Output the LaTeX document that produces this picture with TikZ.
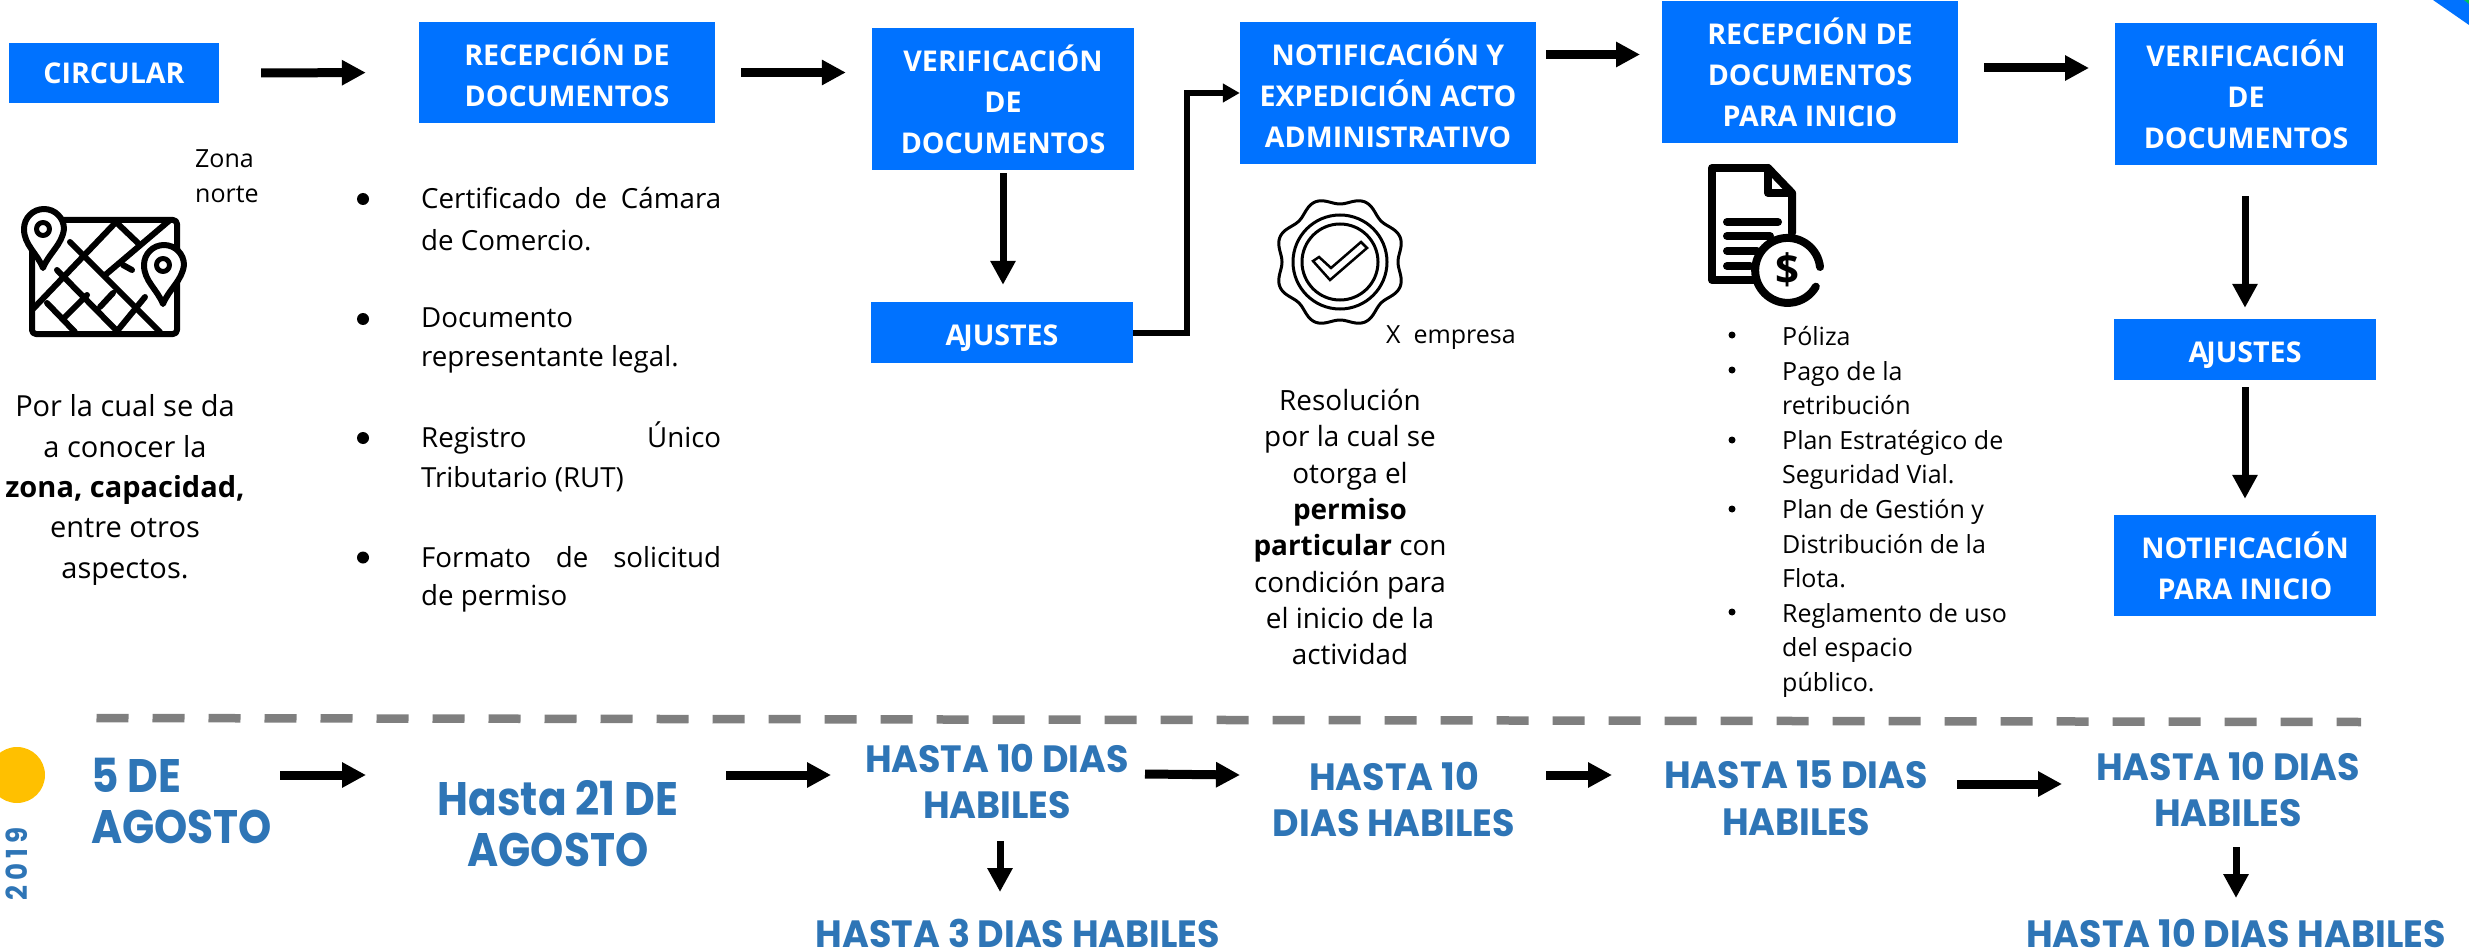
\documentclass[tikz,border=0pt]{standalone}
\usepackage{fontspec}
\setmainfont{Open Sans}
\newfontfamily\gothic{Poppins}[FakeStretch=0.9]
\newfontfamily\gothicw{Poppins}[FakeStretch=0.96]
\usetikzlibrary{arrows.meta,calc}
\definecolor{boxblue}{HTML}{0072FF}
\definecolor{dateblue}{HTML}{2E75B6}
\definecolor{dashgray}{HTML}{7F7F7F}
\definecolor{sunyellow}{HTML}{FFC000}
\definecolor{cornergreen}{HTML}{00C060}
\tikzset{
 bx/.style={fill=boxblue,text=white,inner sep=0pt,align=center,font=\fontsize{28.6}{41}\selectfont\bfseries},
 ajbx/.style={bx,text height=26.5pt,text depth=0pt},
 arr/.style={line width=9pt,-{Triangle[length=24pt,width=24pt]}},
 darr/.style={line width=7pt,-{Triangle[length=24pt,width=24pt]}},
 elb/.style={line width=6pt,line join=miter,-{Triangle[length=17pt,width=18pt]}},
 body/.style={inner sep=0pt,align=center,font=\fontsize{29}{40.4}\selectfont},
 lst/.style={inner sep=0pt,anchor=west,font=\fontsize{27.7}{40}\selectfont},
 lsts/.style={inner sep=0pt,anchor=west,font=\fontsize{25}{34.6}\selectfont},
 dot/.style={fill=black,circle,inner sep=0pt,minimum size=#1},
 date/.style={inner sep=0pt,text=dateblue,align=center,font=\gothicw\fontsize{38}{46.5}\selectfont\bfseries},
 bigdate/.style={inner sep=0pt,text=dateblue,align=center,font=\gothic\fontsize{47}{51.5}\selectfont\bfseries},
 icon/.style={line width=6pt,line cap=round,line join=round},
}
\begin{document}
\begin{tikzpicture}[x=1pt,y=-1pt]
\useasboundingbox (0,0) rectangle (2469,952);
\begin{scope}
\clip (0,0) rectangle (2469,952);
\fill[boxblue] (2433,0) -- (2469,25) -- (2469,0) -- cycle;
\fill[cornergreen] (2464,0) -- (2469,4) -- (2469,0) -- cycle;
\fill[sunyellow] (17,775) circle (28);
\end{scope}

% boxes
\node[bx,minimum width=210,minimum height=60] (circ) at (114,73) {CIRCULAR};
\node[bx,minimum width=296,minimum height=101] (rec) at (567,72.5) {RECEPCIÓN DE\\DOCUMENTOS};
\node[bx,minimum width=262,minimum height=142] (ver) at (1003,99) {VERIFICACIÓN\\DE\\DOCUMENTOS};
\node[ajbx,minimum width=262,minimum height=61] (aj) at (1002,332.5) {A\kern-2ptJUSTES};
\node[bx,minimum width=296,minimum height=142] (not) at (1388,93) {NOTIFICACIÓN Y\\EXPEDICIÓN ACTO\\ADMINISTRATIVO};
\node[bx,minimum width=296,minimum height=142] (rec2) at (1810,72) {RECEPCIÓN DE\\DOCUMENTOS\\PARA INICIO};
\node[bx,minimum width=262,minimum height=142] (ver2) at (2246,94) {VERIFICACIÓN\\DE\\DOCUMENTOS};
\node[ajbx,minimum width=262,minimum height=61] (aj2) at (2245,349.5) {A\kern-2ptJUSTES};
\node[bx,minimum width=262,minimum height=101] (not2) at (2245,565.5) {NOTIFICACIÓN\\PARA INICIO};

% connectors, top row
\draw[arr,shorten <=42pt,shorten >=53pt] (circ.east) -- (rec.west);
\draw[arr,shorten <=26pt,shorten >=26pt] (rec.east) -- (rec.east -| ver.west);
\draw[darr,shorten <=3pt,shorten >=17pt] (ver.south) -- (aj.north -| ver.south);
\draw[elb] (aj.east) -- ++(54,0) |- (not.west);
\coordinate (na) at (1546,54.5);
\coordinate (nb) at (1640,54.5);
\draw[arr] (na) -- (nb);
\coordinate (ra) at (1984,68);
\coordinate (rb) at (2089,68);
\draw[arr] (ra) -- (rb);
\draw[darr,shorten <=31pt,shorten >=11pt] (ver2.south -| aj2.north) -- (aj2.north);
\draw[darr,shorten <=7pt,shorten >=16pt] (aj2.south) -- (not2.north);

% left text
\node[inner sep=0pt,anchor=west,font=\fontsize{25}{35.5}\selectfont,align=left] (zona) at (195,176) {Zona\\norte};
\node[body] (porla) at (125,490) {Por la cual se da\\a conocer la\\\textbf{zona, capacidad,}\\entre otros\\aspectos.};

% map icon
\draw[icon,fill=white,rounded corners=4pt] (32,220) rectangle (177,334);
\begin{scope}
\clip (32,220) rectangle (177,334);
\draw[icon,line cap=butt]
 (32,310) -- (118,220) (104,276) -- (170,220);
\draw[icon]
 (65,317) -- (87,295) (100,307) -- (113,293) (118,330) -- (145,297)
 (70,242) -- (160,332) (57,270) -- (118,332) (47,303) -- (75,332)
 (117,223) -- (140,245) (123,265) -- (132,270);
\end{scope}
\draw[icon,fill=white] (43,268) .. controls (37,253) and (24,245) .. (24,229) arc[start angle=180,end angle=360,radius=20] .. controls (62,245) and (49,253) .. (43,268) -- cycle;
\draw[icon,line width=5pt] (43,229) circle (6.5);
\draw[icon,fill=white] (163,304) .. controls (157,289) and (144,281) .. (144,265) arc[start angle=180,end angle=360,radius=20] .. controls (182,281) and (169,289) .. (163,304) -- cycle;
\draw[icon,line width=5pt] (163,265) circle (6.5);

% document list
\foreach \yy in {199,319,438,557.5} \node[dot=12pt] at (363,\yy) {};
\node[lst] (l1) at (421,198) {\makebox[300pt][s]{Certificado de Cámara}};
\node[lst] (l2) at (421,240) {de Comercio.};
\node[lst] (l3) at (421,318) {Documento};
\node[lst] (l4) at (421,359) {representante legal.};
\node[lst] (l5) at (421,438) {\makebox[300pt][s]{Registro Único}};
\node[lst] (l6) at (421,479) {Tributario (RUT)};
\node[lst] (l7) at (421,557) {\makebox[300pt][s]{Formato de solicitud}};
\node[lst] (l8) at (421,598) {de permiso};

% seal
\draw[line width=3pt,line join=round] plot[domain=0:360,samples=181,smooth] ({1340+(61.5+3.5*cos(8*(\x-22.5)))*cos(\x)},{262+(61.5+3.5*cos(8*(\x-22.5)))*sin(\x)}) -- cycle;
\draw[line width=3pt] (1340,262) circle (47) (1340,262) circle (38);
\draw[line width=2.5pt,line join=miter] (1313,261) -- (1330,280) -- (1367,248) -- (1361,242) -- (1331,268) -- (1319,257) -- cycle;
\node[inner sep=0pt,anchor=west,font=\fontsize{25}{30}\selectfont] (xemp) at (1386,338) {X\ \ empresa};
\node[inner sep=0pt,align=center,font=\fontsize{27.9}{36.3}\selectfont] (reso) at (1350,527) {Resolución\\por la cual se\\otorga el\\\textbf{permiso}\\\textbf{particular} con\\condición para\\el inicio de la\\actividad};

% document-money icon
\draw[line width=8pt,line join=round,line cap=round] (1768,168) -- (1712,168) -- (1712,280) -- (1760,280);
\draw[line width=8pt,line join=round,line cap=round] (1768,168) -- (1792,193) -- (1792,233);
\draw[line width=8pt,line join=round,line cap=round] (1768,168) -- (1768,193) -- (1792,193);
\draw[line width=8pt,line cap=round] (1727,222) -- (1778,222) (1727,236) -- (1770,236) (1727,251) -- (1757,251) (1727,266) -- (1750,266);
\fill[white] (1788,270.5) circle (33);
\draw[line width=8pt,line cap=round] (1820,267) arc[start angle=-6,end angle=-330,radius=32.5];
\node[inner sep=0pt,font=\fontsize{42}{42}\selectfont\bfseries] (dollar) at (1787,270) {\$};

% third list
\foreach \yy in {335,370,440,509,612} \node[dot=7pt] at (1732,\yy) {};
\node[lsts,anchor=west,align=left] (polz) at (1782,512) {Póliza\\Pago de la\\retribución\\Plan Estratégico de\\Seguridad Vial.\\Plan de Gestión y\\Distribución de la\\Flota.\\Reglamento de uso\\del espacio\\público.};

% divider
\coordinate (da) at (96.5,718);
\coordinate (db) at (2361,722);
\draw[dashgray,line width=8.5pt,dash pattern=on 32pt off 24pt] (da) -- (db);

% timeline
\node[rotate=90,inner sep=0pt,text=dateblue,font=\gothic\fontsize{29}{29}\selectfont\bfseries] (yr) at (17,864) {2\,0\,1\,9};
\node[bigdate,align=left,anchor=west] (t1) at (91,801) {5 DE\\AGOSTO};
\node[bigdate] (t2) at (558,823.5) {Hasta 21 DE\\AGOSTO};
\node[date] (t3) at (997,781.5) {HASTA 10 DIAS\\HABILES};
\node[date] (t3b) at (1018,933) {HASTA 3 DIAS HABILES};
\node[date] (t4) at (1394,799.5) {HASTA 10\\DIAS HABILES};
\node[date] (t5) at (1796,798) {HASTA 15 DIAS\\HABILES};
\node[date] (t6) at (2228,789.5) {HASTA 10 DIAS\\HABILES};
\node[date] (t6b) at (2236,933) {HASTA 10 DIAS HABILES};

\coordinate (a1) at (280,775); \coordinate (a2) at (366,775);
\coordinate (b1) at (726,775); \coordinate (b2) at (831,775);
\coordinate (c1) at (1145,774); \coordinate (c2) at (1240,775);
\coordinate (d1) at (1546,775); \coordinate (d2) at (1612,775);
\coordinate (e1) at (1957,784); \coordinate (e2) at (2062,784);
\coordinate (f1) at (1000,841); \coordinate (f2) at (1000,892);
\coordinate (g1) at (2236,847); \coordinate (g2) at (2236,898);
\draw[arr] (a1) -- (a2);
\draw[arr] (b1) -- (b2);
\draw[arr] (c1) -- (c2);
\draw[arr] (d1) -- (d2);
\draw[arr] (e1) -- (e2);
\draw[darr] (f1) -- (f2);
\draw[darr] (g1) -- (g2);
\end{tikzpicture}
\end{document}
